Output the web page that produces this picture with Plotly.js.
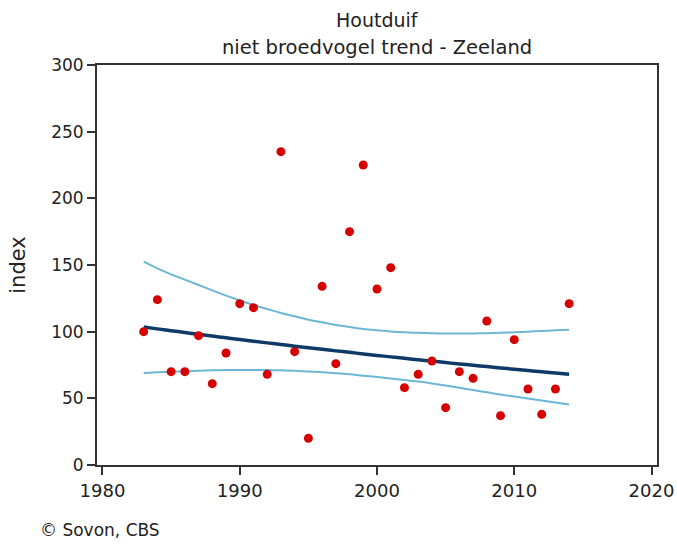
<!DOCTYPE html>
<html>
<head>
<meta charset="utf-8">
<script src="https://cdn.plot.ly/plotly-3.0.1.min.js"></script>
<style>html,body{margin:0;padding:0;background:#fff;}#chart{width:677px;height:545px;}</style>
</head>
<body>
<div id="chart"></div>
<script>
// Observed index values per year
var years = [1983,1984,1985,1986,1987,1988,1989,1990,1991,1992,1993,1994,1995,1996,1997,1998,1999,2000,2001,2002,2003,2004,2005,2006,2007,2008,2009,2010,2011,2012,2013,2014];
var indexValues = [100,124,70,70,97,61,84,121,118,68,235,85,20,134,76,175,225,132,148,58,68,78,43,70,65,108,37,94,57,38,57,121];

// Trend line and confidence bounds (per year)
var trendValues = [103.5,102.1,100.7,99.4,98.0,96.7,95.4,94.1,92.8,91.6,90.4,89.1,87.9,86.8,85.6,84.5,83.3,82.2,81.1,80.0,78.9,77.9,76.8,75.8,74.8,73.8,72.8,71.8,70.8,69.9,69.0,68.0];
var upperValues = [152.5,147.5,143,139,135,131,127,123.5,120,117,114,111.5,109,107,105,103.5,102,101,100.2,99.6,99.1,98.8,98.6,98.6,98.7,98.9,99.2,99.6,100,100.5,101,101.5];
var lowerValues = [69,69.5,70,70.4,70.7,71,71.2,71.3,71.3,71.2,71,70.6,70.1,69.5,68.8,68,67,66,64.9,63.7,62.6,61.2,59.6,57.9,56.2,54.5,52.8,51.3,49.8,48.3,46.8,45.4];

var xTicks = [1980,1990,2000,2010,2020];
var yTicks = [0,50,100,150,200,250,300];
var titleLines = ['Houtduif', 'niet broedvogel trend - Zeeland'];

var font = 'DejaVu Sans, Verdana, sans-serif';

var traces = [
  {x: years, y: upperValues, type: 'scatter', mode: 'lines', line: {color: '#6cb6d6', width: 2, shape: 'spline'}, hoverinfo: 'skip'},
  {x: years, y: lowerValues, type: 'scatter', mode: 'lines', line: {color: '#6cb6d6', width: 2, shape: 'spline'}, hoverinfo: 'skip'},
  {x: years, y: trendValues, type: 'scatter', mode: 'lines', line: {color: '#0e3a68', width: 3.5, shape: 'spline'}, hoverinfo: 'skip'},
  {x: years, y: indexValues, type: 'scatter', mode: 'markers', marker: {color: '#d50000', size: 9}}
];

var layout = {
  width: 677, height: 545,
  margin: {l: 97, r: 20, t: 65, b: 80},
  paper_bgcolor: '#ffffff', plot_bgcolor: '#ffffff',
  showlegend: false,
  font: {family: font, color: '#222', size: 17},
  xaxis: {
    range: [1979.6, 2020.4],
    tickvals: xTicks, ticktext: xTicks.map(String),
    showgrid: false, zeroline: false,
    showline: true, linecolor: '#333', linewidth: 2, mirror: true,
    ticks: 'outside', ticklen: 8, tickwidth: 2, tickcolor: '#333',
    tickfont: {family: font, size: 18, color: '#222'}
  },
  yaxis: {
    range: [0, 300],
    tickvals: yTicks, ticktext: yTicks.map(String),
    showgrid: false, zeroline: false,
    showline: true, linecolor: '#333', linewidth: 2, mirror: true,
    ticks: 'outside', ticklen: 8, tickwidth: 2, tickcolor: '#333',
    tickfont: {family: font, size: 17, color: '#222'},
    title: {text: 'index', font: {family: font, size: 21, color: '#222'}, standoff: 20}
  },
  annotations: [
    {text: titleLines[0], xref: 'paper', yref: 'paper', x: 0.5, y: 1.1125, xanchor: 'center', yanchor: 'middle',
     showarrow: false, font: {family: font, size: 19, color: '#222'}},
    {text: titleLines[1], xref: 'paper', yref: 'paper', x: 0.5, y: 1.045, xanchor: 'center', yanchor: 'middle',
     showarrow: false, font: {family: font, size: 19.5, color: '#222'}},
    {text: '© Sovon, CBS', xref: 'paper', yref: 'paper',
     x: -0.106, y: -0.163, xanchor: 'left', yanchor: 'middle',
     showarrow: false, font: {family: font, size: 17, color: '#222'}}
  ]
};

Plotly.newPlot('chart', traces, layout, {displayModeBar: false, staticPlot: true});
</script>
</body>
</html>
